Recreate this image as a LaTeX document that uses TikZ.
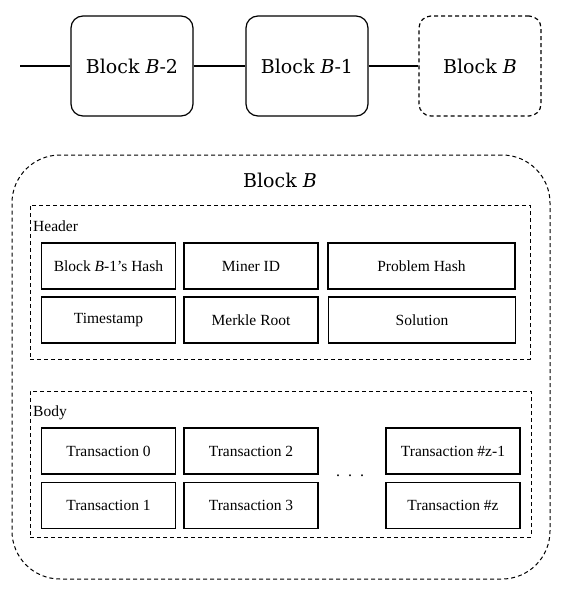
\documentclass[tikz,border=0pt]{standalone}
\usepackage{fontspec}
\setmainfont{Liberation Serif}
\newfontfamily\slabfont{DejaVu Serif}
\begin{document}
\begin{tikzpicture}
        [x=1pt, y=-1pt,
        block/.style={rectangle, draw, rounded corners=12pt, line width=1.2pt, minimum width=122pt, minimum height=100pt, font=\slabfont\fontsize{19}{22}\selectfont},
        blockDashed/.style={block, dash pattern=on 4pt off 3pt},
        field/.style={rectangle, draw, line width=1.2pt, minimum width=134pt, minimum height=46pt, inner sep=0pt, font=\fontsize{15.5}{18}\selectfont},
        frame/.style={rectangle, draw, line width=1pt, dash pattern=on 4pt off 3pt, inner sep=0pt},
        label/.style={anchor=base west, inner sep=0pt, font=\fontsize{15.5}{18}\selectfont},
        link/.style={line width=2pt}]
        \useasboundingbox (0,0) rectangle (564,594);

        % chain of blocks
        \coordinate (start) at (20,66);
        \node[block] (B2) at (132,66) {Block \textit{B}-2};
        \node[block] (B1) at (307,66) {Block \textit{B}-1};
        \node[blockDashed] (B) at (480,66) {Block \textit{B}};

        \draw[link] (start) -- (B2);
        \draw[link] (B2) -- (B1);
        \draw[link] (B1) -- (B);

        % block B in detail
        \node[frame, rounded corners=48pt, minimum width=538pt, minimum height=424pt] (blockB) at (281,367) {};
        \node[font=\slabfont\fontsize{19}{22}\selectfont] (title) at (280,180) {Block \textit{B}};

        % header
        \node[frame, minimum width=500pt, minimum height=154pt] (header) at (280,282) {};
        \node[label] (headerLabel) at (33,231) {Header};
        \node[field] (prevHash) at (108.5,266) {Block \textit{B}-1's Hash};
        \node[field] (miner) at (251,266) {Miner ID};
        \node[field, minimum width=187pt] (problem) at (421.5,266) {Problem Hash};
        \node[field] (time) at (108.5,320) {Timestamp};
        \node[field] (merkle) at (251,320) {Merkle Root};
        \node[field, minimum width=187pt] (solution) at (422,320) {Solution};

        % body
        \node[frame, minimum width=501pt, minimum height=146pt] (body) at (280.5,464) {};
        \node[label] (bodyLabel) at (33,416) {Body};
        \node[field] (tx0) at (108.5,451) {Transaction 0};
        \node[field] (tx1) at (108.5,505.5) {Transaction 1};
        \node[field] (tx2) at (251,451) {Transaction 2};
        \node[field] (tx3) at (251,505.5) {Transaction 3};
        \node[font=\fontsize{16}{18}\selectfont] (dots) at (350,476) {.\hspace{8pt}.\hspace{8pt}.};
        \node[field] (txz1) at (453,451) {Transaction \#z-1};
        \node[field] (txz) at (453,505.5) {Transaction \#z};

\end{tikzpicture}
\end{document}
